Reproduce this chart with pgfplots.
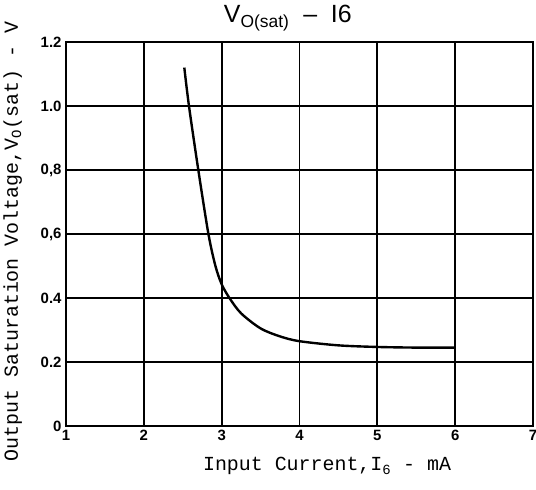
\documentclass[border=0pt]{standalone}
\usepackage{fontspec}
\setmainfont{Liberation Sans}
\newfontfamily\labfont{Liberation Mono}
\usepackage{pgfplots}
\pgfplotsset{compat=1.18}
\begin{document}
\begin{tikzpicture}
\begin{axis}[
  width=467bp, height=384bp, scale only axis,
  xmin=1, xmax=7, ymin=0, ymax=1.2,
  xtick={1,2,3,4,5,6,7},
  ytick={0,0.2,0.4,0.6,0.8,1.0,1.2},
  yticklabels={0,0.2,0.4,{0,6},{0,8},1.0,1.2},
  xticklabels={1,2,3,4,5,6,7},
  major tick length=0pt,
  grid=major,
  major grid style={black, line width=1.4pt},
  every axis x grid/.append style={line width=2pt},
  axis line style={black, line width=1.8pt},
  tick label style={font=\fontsize{15}{15}\selectfont\bfseries},
  xticklabel style={yshift=-1bp},
  yticklabel style={xshift=-1bp},
  xlabel={\labfont Input Current,I\textsubscript{6} - mA},
  ylabel={\labfont Output Saturation Voltage,V\textsubscript{O}(sat) - V},
  label style={font=\fontsize{20}{20}\selectfont},
  xlabel style={at={(axis description cs:0.559,-0.105)}, anchor=center},
  ylabel style={at={(axis description cs:-0.114,0.48)}, anchor=center, rotate=0},
  title={V\textsubscript{O(sat)}\ \ --\ \ I6},
  title style={font=\fontsize{25}{25}\selectfont, at={(axis description cs:0.475,1.034)}, anchor=base},
  clip=false,
]
\addplot[black, line width=2.4pt, smooth, tension=0.5] coordinates {
 (2.52,1.12) (2.58,1.00) (2.70,0.80) (2.83,0.60) (2.92,0.50) (3.00,0.443)
 (3.10,0.400) (3.25,0.352) (3.50,0.305) (3.75,0.280) (4.00,0.265)
 (4.50,0.252) (5.00,0.247) (5.50,0.245) (6.00,0.245)
};
\end{axis}
\pgfresetboundingbox
\path ([shift={(-66bp,-64bp)}]current axis.south west) rectangle ([shift={(3bp,42bp)}]current axis.north east);
\end{tikzpicture}
\end{document}
